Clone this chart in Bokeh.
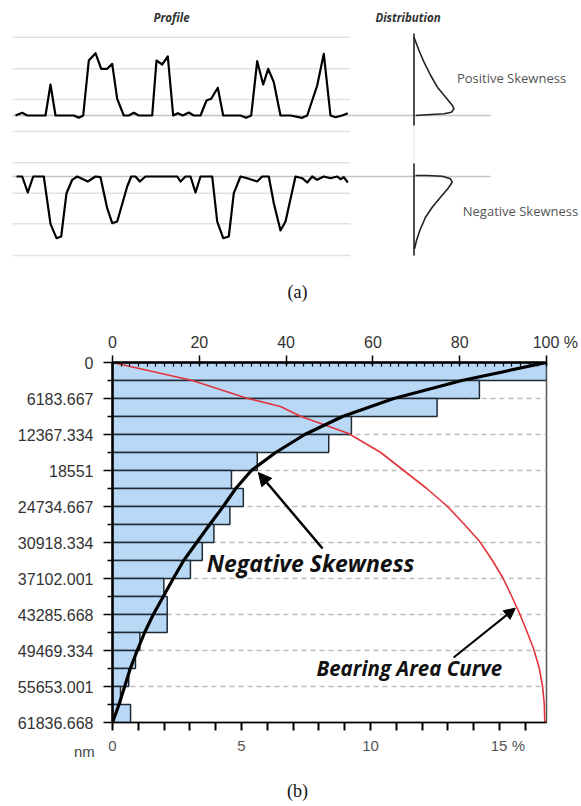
from bokeh.plotting import figure
from bokeh.models import Range1d, LinearAxis, FixedTicker, Label, Arrow, NormalHead, Div
from bokeh.embed import file_html
from bokeh.resources import INLINE

# ---------------- panel (a) data ----------------
prof_top_x = [15.0, 21.7, 26.7, 45.0, 50.0, 55.0, 73.3, 78.3, 82.7, 88.3, 95.0, 100.7, 106.7, 111.7,
              116.7, 123.3, 128.3, 133.3, 138.3, 151.7, 156.0, 161.7, 167.3, 172.7, 177.3, 182.3,
              188.3, 193.3, 200.0, 206.0, 210.7, 217.3, 222.7, 240.0, 245.7, 250.7, 256.7, 262.7,
              267.7, 273.3, 280.0, 290.0, 301.7, 306.7, 316.7, 323.3, 330.0, 335.0, 341.7, 347.3]
prof_top_h = [0, 2.7, 0, 0, 31, 0, 0, -2.3, 0, 55, 62.3, 46.7, 46.7, 51.7,
              16.7, 0, 0, 2.7, 0, 0, 55, 51, 59, 0, 2.3, 0,
              3, 0, 0, 15, 16.7, 27.7, 0, 0, -2.3, 0, 54.3, 31,
              46.7, 33.3, 0, 0, -2.3, 0, 30, 61.7, 0, -1.7, 0, 2.3]
prof_bot_x = [16.0, 21.7, 27.3, 32.7, 43.3, 50.0, 56.0, 60.7, 66.0, 71.7, 76.7, 87.3, 95.0, 100.0,
              106.7, 111.7, 116.7, 126.7, 130.7, 135.0, 139.3, 145.0, 176.7, 180.0, 185.0, 190.0,
              195.0, 200.0, 211.7, 216.7, 222.7, 228.3, 233.3, 240.0, 246.7, 256.7, 261.7, 268.3,
              273.3, 280.0, 285.0, 295.0, 301.7, 306.7, 311.7, 316.7, 323.3, 330.0, 336.7, 340.0,
              343.3, 347.3]
prof_bot_h = [0, 0, -16, 0, 0, -47.3, -61.7, -60, -16.7, -3.3, 0, -5, 0, -0.7,
              -31.7, -46.7, -45, -10, 0, 0, -5, 0, 0, -5, 0, 0,
              -16, 0, 0, -45, -61.7, -60, -16.7, 0, -1.7, -5, 0, 0,
              -26.7, -54, -45, 0, -1.7, -6, 0, -3.3, 0, -1.7, 0, -2.7,
              -0.7, -6]
dist_pos_d = [0, 5, 10, 16.7, 23.4, 31.7, 38.4, 40, 37.4, 30, 13.4, 1.7]
dist_pos_h = [78.3, 65, 53.3, 40, 28.3, 18.3, 10, 6.7, 3.3, 1.7, 0.7, 0]
dist_neg_d = [1.5, 13.2, 28.2, 36.5, 38.2, 33.8, 26.5, 18.2, 11.5, 5.8, 2.5, 0.5]
dist_neg_h = [1, 1, 0.3, -2.3, -5.7, -12.3, -20.7, -30.7, -40.7, -54, -64, -72.3]
grid_top = [78.3, 46.7, 16.0, -16.0]
grid_bot = [13.7, -16.7, -47.3, -79.0]

# ---------------- panel (b) data ----------------
depth_ticks = [0, 6183.667, 12367.334, 18551.0, 24734.667, 30918.334, 37102.001,
               43285.668, 49469.334, 55653.001, 61836.668]
depth_labels = ["0", "6183.667", "12367.334", "18551", "24734.667", "30918.334", "37102.001",
                "43285.668", "49469.334", "55653.001", "61836.668"]
hist_pct = [16.82, 14.22, 12.58, 9.26, 8.38, 5.61, 4.61, 5.07, 4.55, 3.93,
            3.48, 3.02, 1.99, 2.12, 2.12, 1.06, 0.89, 0.63, 0.31, 0.70]
skew_depth = [0, 3092, 6184, 9276, 12367, 15459, 18551, 21643, 24735, 27826, 30918,
              34010, 37102, 40194, 43286, 46377, 49469, 52561, 55653, 58745, 61837]
skew_pct = [100, 80.5, 64.8, 53.0, 44.3, 37.6, 32.0, 28.4, 25.5, 22.4, 19.4,
            16.4, 14.0, 11.7, 9.4, 7.4, 5.7, 4.1, 2.8, 1.5, 0]
bac_depth = [0, 3092, 6132, 7557, 9224, 12196, 15459, 18551, 21643, 24735, 27826, 30746,
             33838, 36929, 40022, 43114, 46034, 49126, 52390, 55653, 58745, 61837]
bac_pct = [0, 18.4, 31.0, 38.7, 43.3, 54.4, 61.8, 67.1, 72.4, 77.2, 81.1, 84.6,
           87.4, 89.9, 91.9, 93.8, 95.4, 97.0, 98.3, 99.1, 99.5, 99.6]

W = 581
FS = "\u2007"  # figure space, keeps "100"/"15" centred on their ticks

def lab(fig, x, y, text, font="Open Sans", size="12px", style="normal", color="#333",
        align="center", **kw):
    fig.add_layout(Label(x=x, y=y, text=text, text_font=font, text_font_size=size,
                         text_font_style=style, text_color=color, text_align=align,
                         text_baseline="middle", **kw))

# ================= panel (a) =================
pa = figure(width=W, height=308, x_range=Range1d(0, W), y_range=Range1d(308, 0),
            x_axis_type=None, y_axis_type=None, toolbar_location=None,
            output_backend="svg", min_border=0, outline_line_color=None)
pa.extra_y_ranges = {"top": Range1d(115 - 308, 115), "bot": Range1d(176 - 308, 176)}
pa.extra_x_ranges = {"dist": Range1d(-413.5, W - 413.5)}

for rn, levels in (("top", grid_top), ("bot", grid_bot)):
    pa.segment(x0=12, x1=350, y0=levels, y1=levels, y_range_name=rn,
               line_color="#e2e2e2", line_width=1.5)
    pa.segment(x0=12, x1=490, y0=0, y1=0, y_range_name=rn,
               line_color="#c4c4c4", line_width=1.5)

pa.line(prof_top_x, prof_top_h, y_range_name="top", line_color="black",
        line_width=2.2, line_join="round")
pa.line(prof_bot_x, prof_bot_h, y_range_name="bot", line_color="black",
        line_width=2.2, line_join="round")

pa.segment(x0=413.5, x1=413.5, y0=125, y1=163, line_color="#eeeeee", line_width=1.5)
pa.segment(x0=0, x1=0, y0=82, y1=-10, x_range_name="dist", y_range_name="top",
           line_color="#222", line_width=1.6)
pa.segment(x0=0, x1=0, y0=13, y1=-79, x_range_name="dist", y_range_name="bot",
           line_color="#222", line_width=1.6)
pa.line(dist_pos_d, dist_pos_h, x_range_name="dist", y_range_name="top",
        line_color="#222", line_width=1.6)
pa.line(dist_neg_d, dist_neg_h, x_range_name="dist", y_range_name="bot",
        line_color="#222", line_width=1.6)

lab(pa, 171, 17, "Profile", size="11.5px", style="bold italic", color="#333")
lab(pa, 407.5, 17, "Distribution", size="11.5px", style="bold italic", color="#333")
lab(pa, 511, 77, "Positive Skewness", size="13px", color="#555")
lab(pa, 520, 210, "Negative Skewness", size="13px", color="#555")
lab(pa, 297, 291, "(a)", font="Liberation Serif", size="18px", color="#111")

# ================= panel (b) =================
DMAX = depth_ticks[-1]
binw = DMAX / len(hist_pct)
centers = [(i + 0.5) * binw for i in range(len(hist_pct))]

pb = figure(width=W, height=462, x_range=Range1d(0, max(hist_pct)), y_range=Range1d(DMAX, 0),
            toolbar_location=None, output_backend="svg",
            min_border_left=112, min_border_right=35, min_border_top=54, min_border_bottom=48)
pb.extra_x_ranges = {"pct": Range1d(0, 100)}
pb.outline_line_color = "#555"
pb.outline_line_width = 1.5

pb.xgrid.visible = False
pb.ygrid.ticker = FixedTicker(ticks=depth_ticks)
pb.ygrid.grid_line_color = "#bdbdbd"
pb.ygrid.grid_line_dash = "5 4"
pb.ygrid.grid_line_width = 1.5

minor_y = [(depth_ticks[i] + depth_ticks[i + 1]) / 2 for i in range(len(depth_ticks) - 1)]
ya = pb.yaxis[0]
ya.ticker = FixedTicker(ticks=depth_ticks, minor_ticks=minor_y)
ya.major_label_overrides = {t: s for t, s in zip(depth_ticks, depth_labels)}
ya.axis_line_width = 2.5
ya.axis_line_color = "black"
ya.major_tick_out = 9
ya.major_tick_in = 0
ya.minor_tick_out = 5
ya.minor_tick_in = 0
ya.major_tick_line_width = 1.5
ya.minor_tick_line_width = 1.5
ya.major_label_standoff = 10
ya.major_label_text_font = "Liberation Sans"
ya.major_label_text_font_size = "16px"
ya.major_label_text_color = "#333"

xa = pb.xaxis[0]
xa.ticker = FixedTicker(ticks=list(range(17)))
xa.major_label_overrides = {i: (FS + FS + "15 %" if i == 15 else (str(i) if i % 5 == 0 else ""))
                            for i in range(17)}
xa.axis_line_width = 1.5
xa.major_tick_out = 8
xa.major_tick_in = 0
xa.major_tick_line_width = 2
xa.minor_tick_line_color = None
xa.major_label_standoff = 6
xa.major_label_text_font = "Liberation Sans"
xa.major_label_text_font_size = "15px"
xa.major_label_text_color = "#555"

ta = LinearAxis(x_range_name="pct",
                ticker=FixedTicker(ticks=[0, 20, 40, 60, 80, 100], minor_ticks=list(range(0, 101, 2))))
ta.major_label_overrides = {100: FS + FS + "100 %"}
ta.axis_line_width = 2.5
ta.major_tick_out = 7
ta.major_tick_in = 3
ta.minor_tick_out = 0
ta.minor_tick_in = 4
ta.major_tick_line_width = 1.5
ta.minor_tick_line_width = 1.2
ta.major_label_standoff = 5
ta.major_label_text_font = "Liberation Sans"
ta.major_label_text_font_size = "16px"
ta.major_label_text_color = "#333"
pb.add_layout(ta, "above")

pb.hbar(y=centers, height=binw, left=0, right=hist_pct, fill_color="#b9d8f5",
        line_color="#1e2a36", line_width=1.5)
pb.line(bac_pct, bac_depth, x_range_name="pct", line_color="#e3343c", line_width=1.6,
        line_join="round")
pb.line(skew_pct, skew_depth, x_range_name="pct", line_color="black", line_width=3.2,
        line_join="round")

pb.add_layout(Arrow(end=NormalHead(size=13, fill_color="black", line_color="black"),
                    x_start=48.4, y_start=31950, x_end=33.6, y_end=18900,
                    x_range_name="pct", line_width=2.5, line_color="black"))
pb.add_layout(Arrow(end=NormalHead(size=11, fill_color="black", line_color="black"),
                    x_start=78.6, y_start=50670, x_end=92.8, y_end=42200,
                    x_range_name="pct", line_width=2, line_color="black"))

lab(pb, 21.7, 34525, "Negative Skewness", size="23px", style="bold italic",
    color="#111", align="left", x_range_name="pct")
lab(pb, 47.0, 52561, "Bearing Area Curve", size="20.5px", style="bold italic",
    color="#111", align="left", x_range_name="pct")

# ================= caption strip =================
pc = figure(width=W, height=36, x_range=Range1d(0, W), y_range=Range1d(36, 0),
            x_axis_type=None, y_axis_type=None, toolbar_location=None,
            output_backend="svg", min_border=0, outline_line_color=None)
lab(pc, 297, 20, "(b)", font="Liberation Serif", size="18px", color="#111")

nm = Div(text="nm", width=30, height=18,
         styles={"position": "absolute", "left": "74px", "top": "743px",
                 "font-family": "Liberation Sans", "font-size": "15px",
                 "line-height": "17px", "color": "#444", "margin": "0", "padding": "0"})

open("out.html", "w").write(file_html([pa, pb, pc, nm], INLINE))
